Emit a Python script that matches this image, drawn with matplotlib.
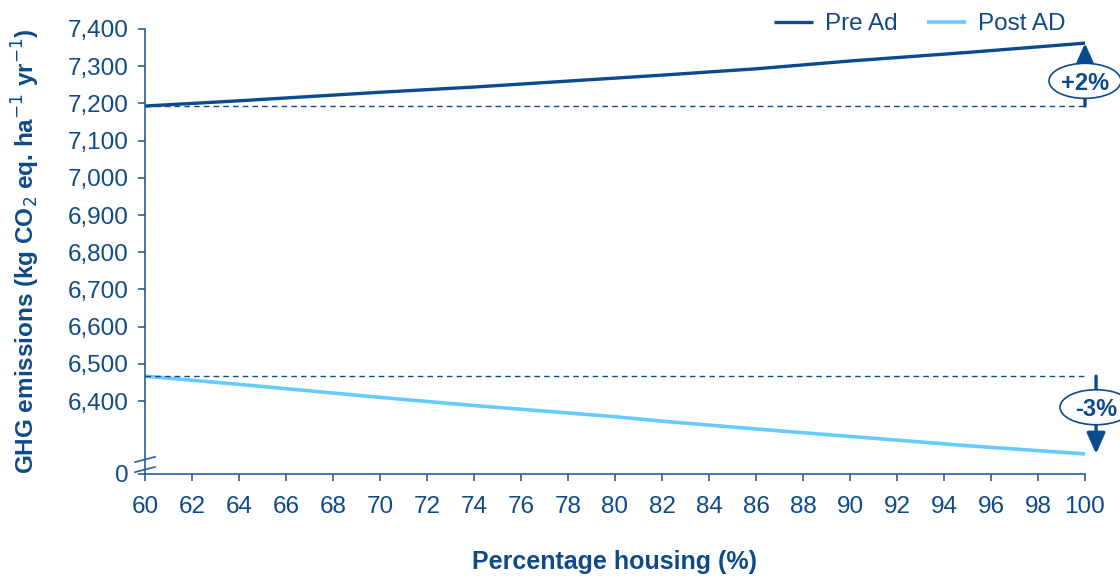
import numpy as np
import matplotlib.pyplot as plt
import matplotlib.transforms as mtransforms
from matplotlib.patches import Ellipse

plt.rcParams['font.family'] = ['Liberation Sans', 'DejaVu Sans']

# data
housing = [60, 64, 70, 74, 80, 82, 86, 90, 95, 100]
pre_ad = [7193, 7207, 7230, 7244, 7268, 7276, 7293, 7314, 7337, 7362]
post_ad = [6467, 6445, 6410, 6388, 6358, 6346, 6325, 6305, 6280, 6258]
x_ticks = list(range(60, 101, 2))
y_ticks = [6400, 6500, 6600, 6700, 6800, 6900, 7000, 7100, 7200, 7300, 7400]
y_break = 6204  # where the broken axis shows "0"
change_labels = ['+2%', '-3%']

NAVY = '#0b4a8c'
LIGHT = '#66ccff'
TEXT = '#0e4a8a'
AXIS = '#2a5d9a'

fig = plt.figure(figsize=(11.2, 5.79), dpi=100)
ax = fig.add_axes([145 / 1120, 1 - 474 / 579, 940 / 1120, 445 / 579])

ax.plot(housing, pre_ad, color=NAVY, lw=2.4, label='Pre Ad', solid_capstyle='butt')
ax.plot(housing, post_ad, color=LIGHT, lw=2.6, label='Post AD', solid_capstyle='butt')

# dashed reference lines at starting values
ax.plot([housing[0], housing[-1]], [pre_ad[0], pre_ad[0]], color=NAVY, lw=1, ls=(0, (4, 3)))
ax.plot([housing[0], housing[-1]], [post_ad[0], post_ad[0]], color=NAVY, lw=1, ls=(0, (4, 3)))

# change arrows with ellipse labels
arrow_x = [housing[-1], housing[-1] + 0.47]
series = [pre_ad, post_ad]
for xa, s, lab in zip(arrow_x, series, change_labels):
    ax.annotate('', xy=(xa, s[-1]), xytext=(xa, s[0]),
                arrowprops=dict(arrowstyle='-|>,head_width=0.4,head_length=0.9',
                                mutation_scale=14, color=NAVY, lw=2.4,
                                shrinkA=0, shrinkB=0),
                annotation_clip=False)
    yc = s[0] + 0.4 * (s[-1] - s[0])
    offs = fig.dpi_scale_trans + mtransforms.ScaledTranslation(xa, yc, ax.transData)
    ax.add_patch(Ellipse((0, 0), 0.72, 0.35, transform=offs, fc='white', ec=NAVY,
                         lw=1.2, clip_on=False, zorder=4))
    ax.text(xa, yc, lab, ha='center', va='center_baseline', fontsize=17,
            fontweight='bold', color=NAVY, clip_on=False, zorder=5)

ax.set_xlim(60, 100)
ax.set_ylim(y_break, 7400)
ax.set_xticks(x_ticks)
ax.set_yticks([y_break] + y_ticks)
ax.set_yticklabels(['0'] + [f'{v:,}' for v in y_ticks])

for side in ['top', 'right']:
    ax.spines[side].set_visible(False)
for side in ['left', 'bottom']:
    ax.spines[side].set_color(AXIS)
    ax.spines[side].set_linewidth(1.2)
ax.tick_params(axis='both', colors=AXIS, labelcolor=TEXT, labelsize=17.5, width=1.2, length=5)
ax.tick_params(axis='y', pad=7)
ax.tick_params(axis='x', pad=11)

# axis break marks
brk = mtransforms.blended_transform_factory(ax.transAxes, ax.transData)
for lo in [32, 5]:
    ax.plot([-0.0106, 0.0106], [y_break + lo, y_break + lo + 14],
            transform=brk, color=AXIS, lw=1.2, clip_on=False)

ax.set_xlabel('Percentage housing (%)', fontsize=18, fontweight='bold', color=TEXT)
ax.set_ylabel('GHG emissions (kg CO$_2$ eq. ha$^{-1}$ yr$^{-1}$)', fontsize=17.5,
              fontweight='bold', color=TEXT)
ax.yaxis.set_label_coords(-(145 - 42) / 940, 0.5)
ax.xaxis.set_label_coords(0.5, -(550 - 474) / 445)

fig.legend(loc='center right', bbox_to_anchor=(1075 / 1120, 1 - 24 / 579), ncol=2,
           frameon=False, fontsize=17.5, labelcolor=TEXT, handlelength=1.6,
           columnspacing=1.2, handletextpad=0.5, borderaxespad=0)

fig.savefig('out.png', dpi=100)
